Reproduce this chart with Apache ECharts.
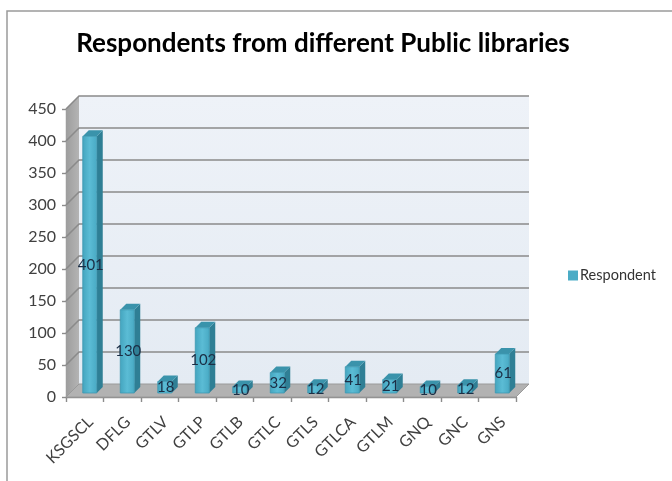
<!DOCTYPE html>
<html>
<head>
<meta charset="utf-8">
<script src="https://cdn.jsdelivr.net/npm/echarts@6/dist/echarts.min.js"></script>
<style>
  html, body { margin: 0; padding: 0; background: #ffffff; }
  #chart { width: 672px; height: 481px; }
</style>
</head>
<body>
<div id="chart"></div>
<script>
// Respondents per public library
const categories = ['KSGSCL', 'DFLG', 'GTLV', 'GTLP', 'GTLB', 'GTLC', 'GTLS', 'GTLCA', 'GTLM', 'GNQ', 'GNC', 'GNS'];
const respondents = [401, 130, 18, 102, 10, 32, 12, 41, 21, 10, 12, 61];
const yTicks = [0, 50, 100, 150, 200, 250, 300, 350, 400, 450];

const FONT = 'Lato, "Open Sans", sans-serif';
const WALL_DEPTH = 13;   // depth of the 3D box (px)
const BAR_DEPTH = 6;     // depth of each 3D column (px)
const BAR_SHIFT = 4;     // columns sit a little behind the front edge

const chart = echarts.init(document.getElementById('chart'), null, { renderer: 'canvas' });

// Back wall, side wall, floor and gridlines of the 3D box
function renderWalls(params, api) {
  const cs = params.coordSys;
  const L = cs.x, R = cs.x + cs.width, T = cs.y, B = cs.y + cs.height;
  const D = WALL_DEPTH;
  const v = api.value(1);
  const y = api.coord([0, v])[1];
  const children = [];
  if (params.dataIndex === 0) {
    children.push({
      type: 'polygon',
      shape: { points: [[L + D, T - D], [R + D, T - D], [R + D, B - D], [L + D, B - D]] },
      style: {
        fill: new echarts.graphic.LinearGradient(0, 0, 0, 1, [
          { offset: 0, color: '#eef2f8' },
          { offset: 1, color: '#e4ebf3' }
        ])
      }
    });
    children.push({
      type: 'polygon',
      shape: { points: [[L, T], [L + D, T - D], [L + D, B - D], [L, B]] },
      style: {
        fill: new echarts.graphic.LinearGradient(0, 0, 1, 0, [
          { offset: 0, color: '#9d9d9d' },
          { offset: 1, color: '#b4b4b4' }
        ])
      }
    });
    children.push({
      type: 'polygon',
      shape: { points: [[L, B], [R, B], [R + D, B - D], [L + D, B - D]] },
      style: { fill: '#b2b2b2', stroke: '#9a9a9a', lineWidth: 1 }
    });
  } else {
    children.push({
      type: 'polyline',
      shape: { points: [[L, y], [L + D, y - D], [R + D, y - D]] },
      style: { stroke: '#8a8a8a', lineWidth: 1.5, fill: null }
    });
  }
  return { type: 'group', children: children };
}

// 3D column with its value label centred on the front face
function renderColumn(params, api) {
  const idx = api.value(0);
  const v = api.value(1);
  const top0 = api.coord([idx, v]);
  const base0 = api.coord([idx, 0]);
  const bw = 14;
  const d = BAR_DEPTH;
  const fl = top0[0] - 2;
  const top = top0[1] - BAR_SHIFT;
  const bottom = base0[1] - BAR_SHIFT;
  return {
    type: 'group',
    children: [
      {
        type: 'polygon',
        shape: { points: [[fl + bw, top], [fl + bw + d, top - d], [fl + bw + d, bottom - d], [fl + bw, bottom]] },
        style: { fill: '#2f7f95' }
      },
      {
        type: 'polygon',
        shape: { points: [[fl, top], [fl + d, top - d], [fl + bw + d, top - d], [fl + bw, top]] },
        style: { fill: '#3a93ab' }
      },
      {
        type: 'rect',
        shape: { x: fl, y: top, width: bw, height: bottom - top },
        style: {
          fill: new echarts.graphic.LinearGradient(0, 0, 1, 0, [
            { offset: 0, color: '#43a4be' },
            { offset: 0.5, color: '#5bbcd5' },
            { offset: 1, color: '#48a9c3' }
          ]),
          stroke: '#3c98b1',
          lineWidth: 0.8
        }
      },
      {
        type: 'text',
        x: fl + bw / 2 + 1,
        y: (top + bottom) / 2,
        style: {
          text: String(v),
          fill: '#1b2e45',
          font: '15px ' + FONT,
          align: 'center',
          verticalAlign: 'middle'
        }
      }
    ]
  };
}

const option = {
  backgroundColor: '#ffffff',
  animation: false,
  title: {
    text: 'Respondents from different Public libraries',
    left: 318,
    textAlign: 'center',
    top: 26,
    textStyle: { fontFamily: FONT, fontWeight: 'bold', fontSize: 26, color: '#000000' }
  },
  legend: {
    data: ['Respondent'],
    left: 563,
    top: 263,
    icon: 'rect',
    itemWidth: 10,
    itemHeight: 10,
    itemGap: 4,
    textStyle: { fontFamily: FONT, fontSize: 14.5, color: '#333333', padding: [0, 0, 0, -3] }
  },
  grid: { left: 66, right: 156, top: 109, bottom: 84 },
  xAxis: {
    type: 'category',
    data: categories,
    axisLine: { show: true, lineStyle: { color: '#8c8c8c', width: 1.4 } },
    axisTick: { show: true, length: 5, lineStyle: { color: '#8c8c8c', width: 1.4 } },
    axisLabel: {
      rotate: 45, margin: 28, padding: [0, -8, 0, 0],
      fontFamily: FONT, fontSize: 16, color: '#404040', interval: 0
    }
  },
  yAxis: {
    type: 'value',
    min: 0,
    max: 450,
    interval: 50,
    axisLine: { show: true, lineStyle: { color: '#8c8c8c', width: 1.4 } },
    axisTick: { show: true, length: 4, lineStyle: { color: '#8c8c8c', width: 1.4 } },
    axisLabel: { margin: 10, fontFamily: FONT, fontSize: 16, color: '#404040' },
    splitLine: { show: false }
  },
  series: [
    {
      name: 'walls',
      type: 'custom',
      clip: false,
      silent: true,
      z: 1,
      renderItem: renderWalls,
      data: yTicks.map(function (v) { return [0, v]; })
    },
    {
      name: 'Respondent',
      type: 'custom',
      clip: false,
      z: 2,
      itemStyle: { color: '#4bacc6' },
      renderItem: renderColumn,
      data: respondents.map(function (v, i) { return [i, v]; })
    }
  ],
  graphic: [
    {
      type: 'polyline',
      shape: { points: [[7, 481], [7, 11], [672, 11]] },
      style: { stroke: '#9a9a9a', lineWidth: 1.5, fill: null },
      z: 100
    }
  ]
};

chart.setOption(option);
</script>
</body>
</html>
